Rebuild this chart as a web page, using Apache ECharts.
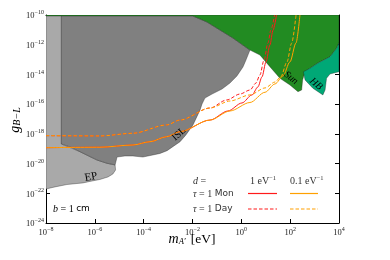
<!DOCTYPE html>
<html><head><meta charset="utf-8">
<script src="https://cdn.jsdelivr.net/npm/echarts@6/dist/echarts.min.js"></script>
<style>html,body{margin:0;padding:0;background:#fff}#c{width:390px;height:260px}</style>
</head><body><div id="c"></div>
<script>
// Axis ticks (log10 exponents)
const xTicks = [-8, -6, -4, -2, 0, 2, 4];
const yTicks = [-24, -22, -20, -18, -16, -14, -12, -10];

// Excluded regions, coordinates are log10(m/eV), log10(g)
const epX = [-8, -7.37, -7.37, -6.61, -5.91, -5.5, -5.17, -5.15, -5.26, -5.46, -5.79, -6.2, -6.48, -7.14, -7.63, -8];
const epY = [-10, -10, -18.68, -19.2, -19.76, -19.98, -20.09, -20.43, -20.7, -20.9, -21.07, -21.2, -21.3, -21.41, -21.57, -21.71];

const islX = [-7.37, -1.98, -1.98, -1.69, -1.41, -0.875, -0.342, 0.354, 0.19, 0.067, -0.18, -0.465, -0.79, -1.2, -1.49, -1.61, -1.69, -1.98, -2.27, -2.51, -2.76, -3.04, -3.33, -3.62, -4.03, -4.44, -4.77, -5.09, -5.17, -5.5, -5.91, -6.61, -7.02, -7.37];
const islY = [-10, -10, -10.07, -10.27, -10.47, -11.01, -11.55, -12.36, -13.03, -13.5, -14.1, -14.58, -14.98, -15.32, -15.59, -15.99, -16.39, -17.4, -18.07, -18.53, -18.81, -19.13, -19.32, -19.42, -19.56, -19.49, -19.49, -19.56, -20.09, -19.98, -19.76, -19.2, -18.88, -18.68];

const sunX = [-8, 4, 4, 3.9, 3.63, 3.14, 2.81, 2.61, 2.51, 2.47, 2.32, 1.99, 1.58, 1.17, 0.76, 0.354, -0.342, -0.875, -1.41, -1.69, -1.98, -8];
const sunY = [-10, -10, -11.88, -12.24, -12.81, -13.23, -13.59, -13.82, -14.37, -15.05, -15.16, -14.71, -14.26, -13.48, -12.69, -12.36, -11.55, -11.01, -10.47, -10.27, -10.07, -10.07];

const hbX = [2.54, 2.81, 3.14, 3.63, 3.9, 4, 4, 3.63, 3.49, 3.43, 3.34, 2.93, 2.61];
const hbY = [-13.82, -13.59, -13.23, -12.81, -12.24, -11.88, -13.82, -13.97, -14.26, -15.05, -15.38, -14.93, -14.37];

// Projected sensitivity curves (tau = 1 month / 1 day, d = 0.1 / 1 eV^-1)
const monFarX = [-8, -5.79, -4.44, -3.74, -3.06, -2.51, -1.28, -0.465, 0.354, 0.97, 1.38, 1.71, 1.99, 2.24, 2.4];
const monFarY = [-18.93, -18.9, -18.75, -18.53, -18.19, -17.85, -17.07, -16.46, -15.89, -15.2, -14.64, -14.1, -13.16, -11.88, -10];
const dayFarX = [-8, -5.79, -4.44, -3.06, -2.51, -1.28, -0.465, 0.354, 0.97, 1.38, 1.62, 1.87, 2.06, 2.24];
const dayFarY = [-18.12, -18.14, -17.96, -17.4, -17.07, -16.26, -15.79, -15.38, -14.91, -14.51, -14.15, -13.16, -11.9, -10];
const monNearX = [-8, -5.79, -4.44, -3.74, -3.06, -2.51, -1.28, -0.547, 0.026, 0.436, 0.68, 0.845, 1.01, 1.17, 1.3, 1.44];
const monNearY = [-18.93, -18.9, -18.75, -18.53, -18.19, -17.85, -17.07, -16.46, -15.92, -15.38, -14.84, -14.17, -13.16, -12.02, -11.01, -10];
const dayNearX = [-8, -5.79, -4.44, -3.06, -2.51, -1.28, -0.6, -0.056, 0.354, 0.6, 0.76, 0.93, 1.09, 1.21, 1.36];
const dayNearY = [-18.12, -18.14, -17.96, -17.4, -17.07, -16.26, -15.72, -15.32, -15.05, -14.58, -14.04, -13.03, -11.88, -11.01, -10];

const RED = '#ff1a1a', ORANGE = '#ffa000';
const SERIF = 'Liberation Serif';
const zip = (xs, ys) => xs.map((x, i) => [x, ys[i]]);

function poly(xs, ys, fill, z) {
  return {
    type: 'custom', coordinateSystem: 'cartesian2d', clip: true, silent: true, z,
    data: [[xs[0], ys[0]]],
    renderItem: (p, api) => ({
      type: 'polygon',
      shape: { points: xs.map((x, i) => api.coord([x, ys[i]])) },
      style: { fill, stroke: 'rgba(30,30,30,0.7)', lineWidth: 0.5 }
    })
  };
}
function curve(xs, ys, color, dashed, z) {
  return {
    type: 'line', data: zip(xs, ys), showSymbol: false, silent: true, z,
    smooth: 0.3, smoothMonotone: 'x', clip: true,
    lineStyle: { color, width: 1, type: dashed ? [3.5, 2] : 'solid' }
  };
}
const sup = v => String(v).replace('-', '\u2212');
const tickRich = {
  b: { fontFamily: SERIF, fontSize: 8.5, color: '#222', verticalAlign: 'bottom', lineHeight: 11 },
  s: { fontFamily: SERIF, fontSize: 6, color: '#222', verticalAlign: 'top', lineHeight: 11 }
};
const axisCommon = {
  type: 'value', splitLine: { show: false },
  axisLine: { show: true, onZero: false, lineStyle: { color: '#000', width: 1 } },
  axisTick: { show: true, inside: true, length: 4, lineStyle: { color: '#000', width: 1 } }
};
function sample(x1, x2, y, color, dashed) {
  return { type: 'polyline', z: 10, silent: true, shape: { points: [[x1, y], [x2, y]] },
    style: { stroke: color, lineWidth: 1.2, fill: null, lineDash: dashed ? [3.5, 2] : null } };
}
const legStyle = (text, x, y) => ({ type: 'text', x, y, z: 10, style: { text, verticalAlign: 'middle', fontFamily: SERIF, fontSize: 10, fill: '#333',
  rich: { i: { fontFamily: SERIF, fontStyle: 'italic', fontSize: 10, fill: '#333' }, s: { fontFamily: 'DejaVu Sans', fontSize: 9, fill: '#333' },
          p: { fontFamily: SERIF, fontSize: 6.5, fill: '#333', verticalAlign: 'top', lineHeight: 12 } } } });

const chart = echarts.init(document.getElementById('c'), null, { renderer: 'canvas' });
chart.setOption({
  animation: false,
  grid: { left: 46, top: 15, right: 51, bottom: 37 },
  xAxis: [
    Object.assign({}, axisCommon, { min: xTicks[0], max: xTicks[xTicks.length - 1], interval: 2, position: 'bottom',
      axisLabel: { margin: 3, formatter: v => '{b|10}{s|' + sup(v) + '}', rich: tickRich } }),
    Object.assign({}, axisCommon, { min: xTicks[0], max: xTicks[xTicks.length - 1], interval: 2, position: 'top',
      axisLabel: { show: false } })
  ],
  yAxis: [
    Object.assign({}, axisCommon, { min: yTicks[0], max: yTicks[yTicks.length - 1], interval: 2, position: 'left',
      axisLabel: { margin: 2, formatter: v => '{b|10}{s|' + sup(v) + '}', rich: tickRich } }),
    Object.assign({}, axisCommon, { min: yTicks[0], max: yTicks[yTicks.length - 1], interval: 2, position: 'right',
      axisLabel: { show: false } })
  ],
  series: [
    poly(epX, epY, '#a9a9a9', 1),
    poly(islX, islY, '#808080', 2),
    poly(sunX, sunY, '#228b22', 3),
    poly(hbX, hbY, '#00a876', 4),
    curve(monNearX, monNearY, RED, false, 5),
    curve(dayNearX, dayNearY, RED, true, 5),
    curve(monFarX, monFarY, ORANGE, false, 6),
    curve(dayFarX, dayFarY, ORANGE, true, 6)
  ],
  graphic: [
    { type: 'text', x: 192, y: 238, z: 10, style: { text: '{i|m}{sub|A\u2032}{sp| }{r|[eV]}', align: 'center', verticalAlign: 'middle',
      rich: { i: { fontFamily: SERIF, fontStyle: 'italic', fontSize: 14, verticalAlign: 'bottom', lineHeight: 16 },
              sub: { fontFamily: SERIF, fontStyle: 'italic', fontSize: 8.5, verticalAlign: 'bottom', lineHeight: 13 },
              sp: { fontSize: 14, width: 5 },
              r: { fontFamily: SERIF, fontSize: 13.5, verticalAlign: 'bottom', lineHeight: 16 } } } },
    { type: 'text', x: 14, y: 120, rotation: Math.PI / 2, z: 10, style: { text: '{i|g}{sub|B\u2212L}', align: 'center', verticalAlign: 'middle',
      rich: { i: { fontFamily: SERIF, fontStyle: 'italic', fontSize: 14, verticalAlign: 'bottom', lineHeight: 16 },
              sub: { fontFamily: SERIF, fontStyle: 'italic', fontSize: 10, verticalAlign: 'bottom', lineHeight: 13 } } } },
    { type: 'text', x: 91, y: 177, rotation: 10 * Math.PI / 180, z: 10, style: { text: 'EP', align: 'center', verticalAlign: 'middle', fontFamily: SERIF, fontSize: 11, fill: '#000' } },
    { type: 'text', x: 179, y: 134, rotation: 42 * Math.PI / 180, z: 10, style: { text: 'ISL', align: 'center', verticalAlign: 'middle', fontFamily: SERIF, fontSize: 10, fill: '#000' } },
    { type: 'text', x: 291, y: 78, rotation: -38 * Math.PI / 180, z: 10, style: { text: 'Sun', align: 'center', verticalAlign: 'middle', fontFamily: SERIF, fontStyle: 'italic', fontSize: 10, fill: '#000' } },
    { type: 'text', x: 316, y: 84, rotation: -40 * Math.PI / 180, z: 10, style: { text: 'HB', align: 'center', verticalAlign: 'middle', fontFamily: SERIF, fontStyle: 'italic', fontSize: 10, fill: '#000' } },
    { type: 'text', x: 53, y: 209, z: 10, style: { text: '{i|b} = 1 {s|cm}', verticalAlign: 'middle', fontFamily: SERIF, fontSize: 10,
      rich: { i: { fontFamily: SERIF, fontStyle: 'italic', fontSize: 10 }, s: { fontFamily: 'DejaVu Sans', fontSize: 9 } } } },
    legStyle('{i|d} =', 193, 181),
    legStyle('{i|\u03c4} = 1 {s|Mon}', 193, 194),
    legStyle('{i|\u03c4} = 1 {s|Day}', 193, 209),
    legStyle('1 eV{p|\u22121}', 250, 181),
    legStyle('0.1 eV{p|\u22121}', 290, 181),
    sample(248, 277, 193.5, RED, false),
    sample(290, 318, 193.5, ORANGE, false),
    sample(248, 277, 209, RED, true),
    sample(290, 318, 209, ORANGE, true)
  ]
});
</script></body></html>
